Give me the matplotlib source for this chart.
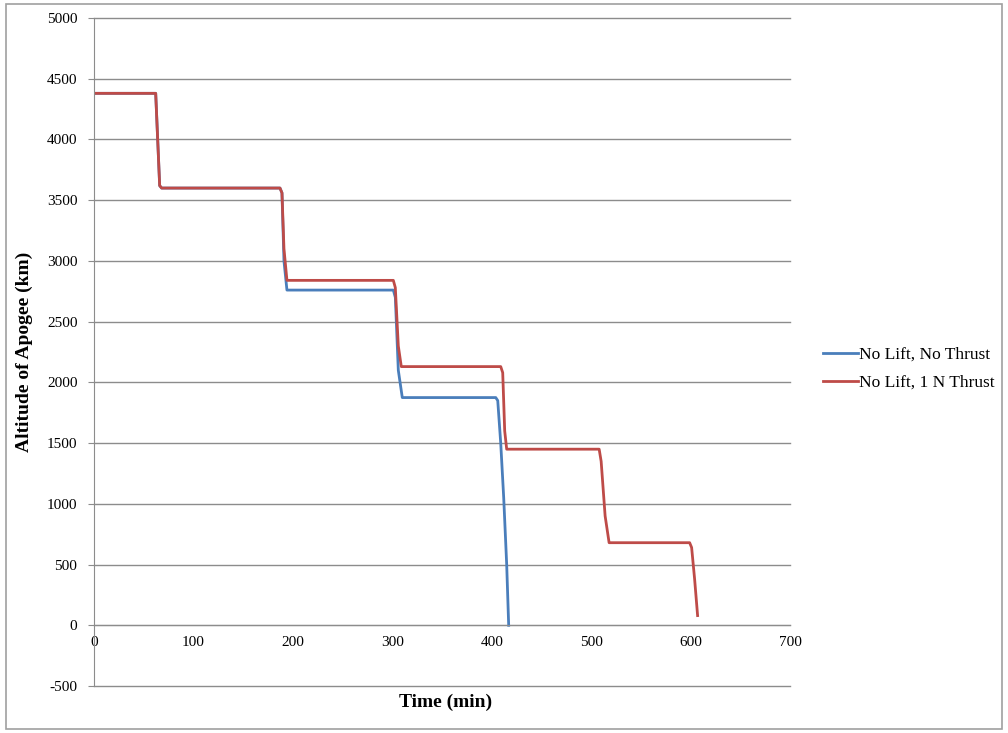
import matplotlib
matplotlib.use("Agg")
import matplotlib.pyplot as plt
from matplotlib.patches import Rectangle

plt.rcParams["axes.unicode_minus"] = False

# Data
blue_t = [0, 62, 64, 66, 68, 187, 189, 191, 194, 301, 303, 306, 310,
          404, 406, 409, 412, 415, 417]
blue_alt = [4380, 4380, 4000, 3620, 3600, 3600, 3560, 3000, 2760, 2760,
            2700, 2100, 1875, 1875, 1850, 1500, 1050, 500, 0]

red_t = [0, 62, 64, 66, 68, 187, 189, 191, 194, 301, 303, 306, 309,
         409, 411, 413, 415, 508, 510, 514, 518, 599, 601, 604, 607]
red_alt = [4380, 4380, 4000, 3620, 3600, 3600, 3560, 3100, 2840, 2840,
           2780, 2300, 2130, 2130, 2080, 1600, 1450, 1450, 1350, 900, 680,
           680, 640, 380, 80]

series_labels = ["No Lift, No Thrust", "No Lift, 1 N Thrust"]
x_ticks = [0, 100, 200, 300, 400, 500, 600, 700]
y_ticks = [-500, 0, 500, 1000, 1500, 2000, 2500, 3000, 3500, 4000, 4500, 5000]

BLUE = "#4a7ebb"
RED = "#be4b48"
GRID = "#8c8c8c"
SERIF = ["Liberation Serif", "DejaVu Serif"]

fig = plt.figure(figsize=(10.08, 7.33), dpi=100, facecolor="white")
fig.patches.append(Rectangle((0.006, 0.006), 0.988, 0.989, transform=fig.transFigure,
                             fill=False, edgecolor="#a0a0a0", linewidth=1.2))

ax = fig.add_axes([0.0933, 0.0641, 0.6905, 0.9113])
ax.plot(blue_t, blue_alt, color=BLUE, linewidth=2, label=series_labels[0])
ax.plot(red_t, red_alt, color=RED, linewidth=2, label=series_labels[1])

ax.set_xlim(0, 700)
ax.set_ylim(-500, 5000)
ax.set_xticks(x_ticks)
ax.set_yticks(y_ticks)
ax.yaxis.grid(True, color=GRID, linewidth=1)
for gl in ax.get_ygridlines():
    gl.set_clip_on(False)
ax.set_axisbelow(True)

for side in ("top", "right"):
    ax.spines[side].set_visible(False)
ax.spines["left"].set_color(GRID)
ax.spines["bottom"].set_position(("data", 0))
ax.spines["bottom"].set_color(GRID)

ax.tick_params(axis="y", length=4, color=GRID, labelsize=11, pad=8)
ax.tick_params(axis="x", length=0, labelsize=11, pad=8)
for lbl in ax.get_xticklabels() + ax.get_yticklabels():
    lbl.set_family(SERIF)

ax.set_ylabel("Altitude of Apogee (km)", family=SERIF, fontsize=14,
              fontweight="bold", labelpad=10)
fig.text(0.4425, 0.042, "Time (min)", family=SERIF, fontsize=14,
         fontweight="bold", ha="center", va="center")

leg = ax.legend(loc="center left", bbox_to_anchor=(1.025, 0.475), frameon=False,
                prop={"family": SERIF, "size": 12.5}, handlelength=2.0,
                handletextpad=0.05, labelspacing=0.7)

fig.savefig("out.png", dpi=100, facecolor="white")
